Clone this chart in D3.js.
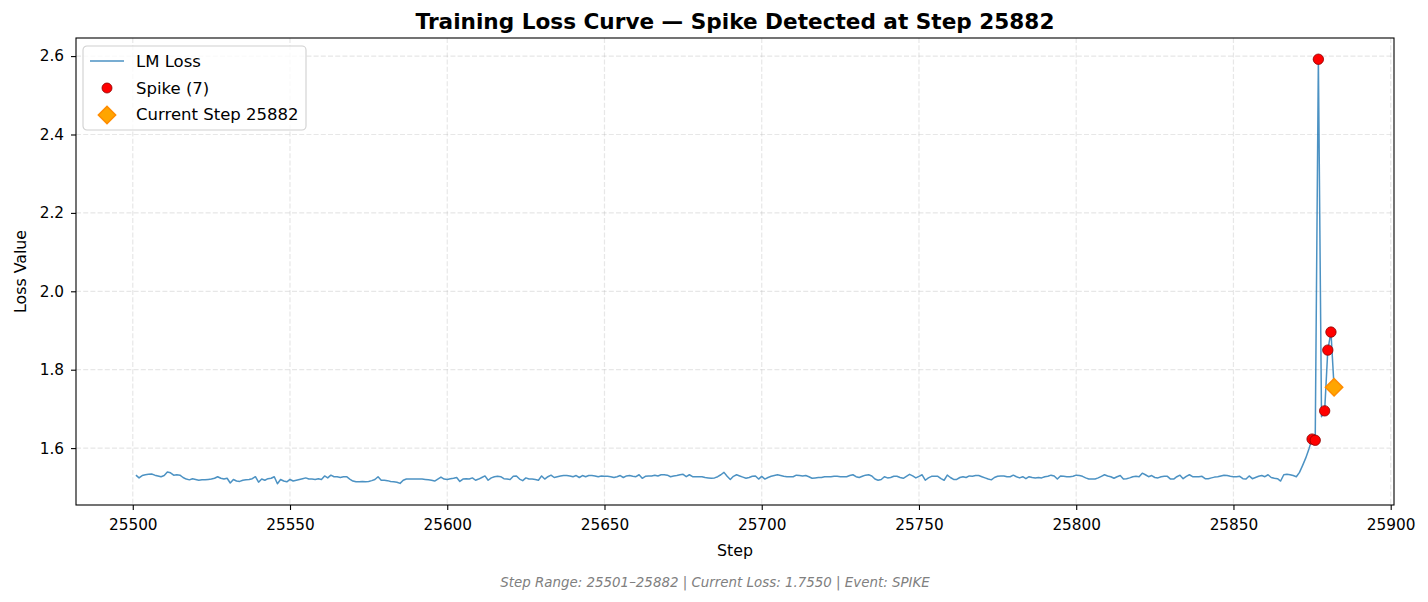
<!DOCTYPE html>
<html>
<head>
<meta charset="utf-8">
<script src="https://cdn.jsdelivr.net/npm/d3@7/dist/d3.min.js"></script>
<style>
  body { margin: 0; background: #fff; }
  svg { font-family: "DejaVu Sans", sans-serif; display: block; }
</style>
</head>
<body>
<div id="chart"></div>
<script>
// loss values, one per step, starting at step 25501
var firstStep = 25501;
var loss1 = [1.531,1.524,1.530,1.532,1.533,1.534,1.531,1.529,1.527,1.530,
  1.539,1.537,1.531,1.532,1.531,1.525,1.521,1.519,1.522,1.520,
  1.518,1.519,1.519,1.520,1.521,1.523,1.527,1.523,1.521,1.523,
  1.511,1.520,1.516,1.515,1.518,1.519,1.520,1.522,1.527,1.513,
  1.521,1.518,1.522,1.523,1.527,1.509,1.520,1.516,1.514,1.520,
  1.516,1.518,1.520,1.522,1.524,1.521,1.521,1.520,1.522,1.520,
  1.529,1.524,1.531,1.527,1.527,1.525,1.527,1.527,1.521,1.516,
  1.514,1.514,1.515];
var loss2 = [1.514,1.515,1.517,1.520,1.527,1.518,1.518,1.517,1.515,1.514,
  1.513,1.510,1.518,1.521,1.521,1.521,1.521,1.521,1.521,1.520,
  1.519,1.518,1.516,1.521,1.526,1.521,1.520,1.522,1.523,1.525,
  1.515,1.521,1.522,1.521,1.524,1.518,1.521,1.525,1.529,1.518,
  1.524,1.527,1.528,1.527,1.522,1.521,1.520,1.528,1.529,1.521,
  1.517,1.524,1.521,1.521,1.520,1.518,1.529,1.521,1.527,1.531,
  1.525,1.527,1.529,1.530,1.530,1.529,1.527,1.530,1.525,1.530,
  1.527,1.530,1.530,1.529,1.527];
var loss3 = [1.529,1.528,1.528,1.527,1.525,1.527,1.530,1.525,1.529,1.530,
  1.528,1.527,1.532,1.523,1.528,1.529,1.529,1.531,1.529,1.532,
  1.532,1.531,1.527,1.529,1.530,1.532,1.533,1.527,1.532,1.527,
  1.527,1.527,1.527,1.525,1.524,1.523,1.524,1.527,1.532,1.538,
  1.528,1.520,1.528,1.532,1.529,1.526,1.523,1.525,1.528,1.529,
  1.521,1.528,1.521,1.525,1.528,1.530,1.532,1.530,1.528,1.527,
  1.527,1.527,1.531,1.530,1.529,1.530,1.527,1.523,1.524,1.525,
  1.525,1.527,1.527,1.527,1.528];
var loss4 = [1.528,1.527,1.527,1.527,1.530,1.532,1.527,1.525,1.528,1.531,
  1.532,1.529,1.521,1.518,1.520,1.527,1.524,1.525,1.528,1.528,
  1.525,1.523,1.528,1.533,1.529,1.524,1.528,1.532,1.518,1.524,
  1.528,1.528,1.528,1.522,1.518,1.531,1.525,1.520,1.520,1.525,
  1.527,1.525,1.529,1.528,1.530,1.530,1.527,1.524,1.521,1.519,
  1.525,1.528,1.529,1.529,1.527,1.527,1.531,1.527,1.524,1.527,
  1.522,1.527,1.525,1.524,1.525,1.524,1.527,1.528,1.531,1.529,
  1.521,1.529,1.528,1.527,1.527];
var loss5 = [1.528,1.531,1.530,1.528,1.524,1.521,1.521,1.521,1.524,1.528,
  1.532,1.529,1.527,1.523,1.527,1.530,1.521,1.522,1.524,1.527,
  1.528,1.527,1.536,1.532,1.527,1.530,1.525,1.524,1.527,1.528,
  1.528,1.521,1.521,1.527,1.531,1.522,1.528,1.532,1.527,1.527,
  1.527,1.528,1.522,1.522,1.524,1.526,1.527,1.529,1.531,1.530,
  1.528,1.527,1.527,1.528,1.522,1.521,1.529,1.522,1.525,1.528,
  1.530,1.527,1.532,1.525,1.523,1.522,1.516,1.532,1.533,1.532,
  1.530];
// steps 25870 - 25882
var lossEnd = [1.527,1.538,1.556,1.575,1.598,1.623,1.620,2.592,1.680,1.695,1.850,1.896,1.755];

var spikeSteps = [25875, 25876, 25877, 25879, 25880, 25881, 25882];
var currentStep = 25882;
var xTicks = [25500, 25550, 25600, 25650, 25700, 25750, 25800, 25850, 25900];
var yTicks = [1.6, 1.8, 2.0, 2.2, 2.4, 2.6];

var lossValues = loss1.concat(loss2, loss3, loss4, loss5, lossEnd);
var data = lossValues.map(function(v, i) { return {step: firstStep + i, loss: v}; });
var spikes = data.filter(function(d) { return spikeSteps.indexOf(d.step) >= 0; });
var current = data.filter(function(d) { return d.step === currentStep; })[0];

var W = 1428, H = 602;
var margin = {top: 38, right: 34, bottom: 97, left: 76};
var width = W - margin.left - margin.right,
    height = H - margin.top - margin.bottom;

var svg = d3.select("#chart").append("svg")
    .attr("width", W)
    .attr("height", H);
svg.append("rect").attr("width", W).attr("height", H).attr("fill", "#fff");

var g = svg.append("g")
    .attr("transform", "translate(" + margin.left + "," + margin.top + ")");

// matplotlib-like 5% padding
var xExt = d3.extent(data, function(d) { return d.step; });
var xPad = (xExt[1] - xExt[0]) * 0.05;
var x = d3.scaleLinear().domain([xExt[0] - xPad, xExt[1] + xPad]).range([0, width]);

var yExt = d3.extent(data, function(d) { return d.loss; });
var yPad = (yExt[1] - yExt[0]) * 0.05;
var y = d3.scaleLinear().domain([yExt[0] - yPad, yExt[1] + yPad]).range([height, 0]);

// grid
g.append("g").selectAll("line").data(xTicks).enter().append("line")
    .attr("x1", function(d) { return x(d); }).attr("x2", function(d) { return x(d); })
    .attr("y1", 0).attr("y2", height)
    .attr("stroke", "#b0b0b0").attr("stroke-opacity", 0.3)
    .attr("stroke-width", 1.2).attr("stroke-dasharray", "5,2.2");
g.append("g").selectAll("line").data(yTicks).enter().append("line")
    .attr("y1", function(d) { return y(d); }).attr("y2", function(d) { return y(d); })
    .attr("x1", 0).attr("x2", width)
    .attr("stroke", "#b0b0b0").attr("stroke-opacity", 0.3)
    .attr("stroke-width", 1.2).attr("stroke-dasharray", "5,2.2");

// axes
var xAxis = g.append("g")
    .attr("transform", "translate(0," + height + ")")
    .call(d3.axisBottom(x).tickValues(xTicks).tickFormat(d3.format("d")).tickSize(5).tickPadding(9));
var yAxis = g.append("g")
    .call(d3.axisLeft(y).tickValues(yTicks).tickFormat(d3.format(".1f")).tickSize(5).tickPadding(7));
[xAxis, yAxis].forEach(function(a) {
  a.select(".domain").remove();
  a.selectAll("line").attr("stroke", "#000").attr("stroke-width", 1.1);
  a.selectAll("text").attr("fill", "#000").style("font-size", "15.3px")
    .style("font-family", "DejaVu Sans, sans-serif");
});

// loss line
var line = d3.line()
    .x(function(d) { return x(d.step); })
    .y(function(d) { return y(d.loss); });

g.append("path")
    .datum(data)
    .attr("d", line)
    .attr("fill", "none")
    .attr("stroke", "#1f77b4")
    .attr("stroke-opacity", 0.8)
    .attr("stroke-width", 1.5)
    .attr("stroke-linejoin", "round");

// spikes
g.append("g").selectAll("circle").data(spikes).enter().append("circle")
    .attr("cx", function(d) { return x(d.step); })
    .attr("cy", function(d) { return y(d.loss); })
    .attr("r", 5.2)
    .attr("fill", "red")
    .attr("stroke", "darkred")
    .attr("stroke-width", 0.8);

// current step
var diamond = d3.symbol().type(d3.symbolSquare).size(150);
g.append("path")
    .attr("d", diamond())
    .attr("transform", "translate(" + x(current.step) + "," + y(current.loss) + ") rotate(45)")
    .attr("fill", "orange")
    .attr("stroke", "darkorange")
    .attr("stroke-width", 1.5);

// frame
g.append("rect")
    .attr("width", width).attr("height", height)
    .attr("fill", "none").attr("stroke", "#000").attr("stroke-width", 1.1);

// legend
var leg = svg.append("g").attr("transform", "translate(83,46)");
leg.append("rect")
    .attr("width", 223).attr("height", 84).attr("rx", 4)
    .attr("fill", "#fff").attr("fill-opacity", 0.8)
    .attr("stroke", "#d0d0d0").attr("stroke-width", 1.1);
leg.append("line")
    .attr("x1", 7).attr("x2", 41).attr("y1", 15).attr("y2", 15)
    .attr("stroke", "#1f77b4").attr("stroke-opacity", 0.8).attr("stroke-width", 1.5);
leg.append("circle")
    .attr("cx", 24).attr("cy", 42).attr("r", 5)
    .attr("fill", "red").attr("stroke", "darkred").attr("stroke-width", 0.8);
leg.append("path")
    .attr("d", diamond())
    .attr("transform", "translate(24,69) rotate(45)")
    .attr("fill", "orange").attr("stroke", "darkorange").attr("stroke-width", 1.5);
var legText = ["LM Loss", "Spike (" + spikes.length + ")", "Current Step " + currentStep];
leg.selectAll("text.lt").data(legText).enter().append("text")
    .attr("class", "lt")
    .attr("x", 53)
    .attr("y", function(d, i) { return 15 + i * 26.7; })
    .attr("dy", "0.36em")
    .style("font-size", "16.5px")
    .text(function(d) { return d; });

// title and labels
svg.append("text")
    .attr("x", margin.left + width / 2)
    .attr("y", 29)
    .attr("text-anchor", "middle")
    .style("font-size", "21.6px")
    .style("font-weight", "bold")
    .text("Training Loss Curve \u2014 Spike Detected at Step " + currentStep);

svg.append("text")
    .attr("x", margin.left + width / 2)
    .attr("y", 556)
    .attr("text-anchor", "middle")
    .style("font-size", "15.8px")
    .text("Step");

svg.append("text")
    .attr("transform", "translate(26," + (margin.top + height / 2) + ") rotate(-90)")
    .attr("text-anchor", "middle")
    .style("font-size", "15.8px")
    .text("Loss Value");

svg.append("text")
    .attr("x", W / 2 + 1)
    .attr("y", 587)
    .attr("text-anchor", "middle")
    .style("font-size", "13.4px")
    .style("font-style", "italic")
    .attr("fill", "#808080")
    .text("Step Range: " + firstStep + "\u2013" + currentStep + " | Current Loss: " +
          d3.format(".4f")(current.loss) + " | Event: SPIKE");
</script>
</body>
</html>
